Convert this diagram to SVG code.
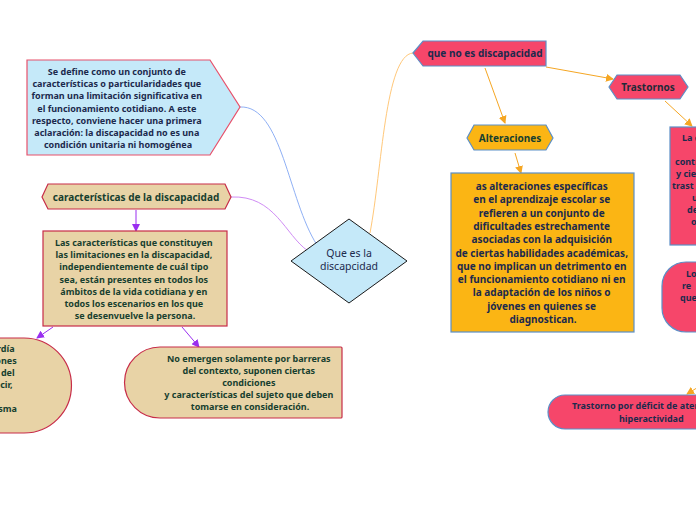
<svg xmlns="http://www.w3.org/2000/svg" width="696" height="520" viewBox="0 0 696 520">
<defs>
<style>
.t{font-family:"Noto Sans","Open Sans","DejaVu Sans",sans-serif;font-weight:bold;text-anchor:middle}
.s9{font-size:9px}
.s10{font-size:10px}
.nv{fill:#1c2a4d}
.gr{fill:#173f2f}
.blue{fill:#c5e9f9;stroke:#e8506a;stroke-width:1.2}
.tan{fill:#e8d3a6;stroke:#c72c48;stroke-width:1.2}
.pink{fill:#f6466a;stroke:#5b8fc7;stroke-width:1.2}
.org{fill:#fbb514;stroke:#5b8fc7;stroke-width:1.2}
.cv{fill:none;stroke-width:1}
.ap{fill:none;stroke:#9a2ff0;stroke-width:1}
.ao{fill:none;stroke:#f5a623;stroke-width:1}
</style>
<marker id="mp" markerWidth="8" markerHeight="8" refX="7" refY="4" orient="auto" markerUnits="userSpaceOnUse"><path d="M0,0 L8,4 L0,8 z" fill="#9a2ff0"/></marker>
<marker id="mo" markerWidth="8" markerHeight="8" refX="7" refY="4" orient="auto" markerUnits="userSpaceOnUse"><path d="M0,0 L8,4 L0,8 z" fill="#f5a623"/></marker>
</defs>
<rect width="696" height="520" fill="#ffffff"/>
<g id="connectors">
<path class="cv" stroke="#8fb0f5" d="M240,107 C282,105 288,200 317,245"/>
<path class="cv" stroke="#d08cf5" d="M231,197 C275,195 285,235 308,251"/>
<path class="cv" stroke="#ffc87a" d="M370,233 C382,170 385,55 413,53"/>
<path class="ap" marker-end="url(#mp)" d="M136,210 L136,231"/>
<path class="ap" marker-end="url(#mp)" d="M53,327 L37,338"/>
<path class="ap" marker-end="url(#mp)" d="M182,327 L199,347"/>
<path class="ao" marker-end="url(#mo)" d="M546,67 L613,79"/>
<path class="ao" marker-end="url(#mo)" d="M485,68 L505,123"/>
<path class="ao" marker-end="url(#mo)" d="M515,153 L521,173"/>
<path class="ao" marker-end="url(#mo)" d="M665,101 L692,126"/>
<path class="ao" marker-end="url(#mo)" d="M700,386 L687,394"/>
</g>
<g id="n-center">
<path d="M349,219 L407,261 L349,303 L291,261 Z" fill="#c5e9f9" stroke="#1a1a1a" stroke-width="1"/>
<text class="nv" x="349" y="257" style="font-family:'Noto Sans',sans-serif;text-anchor:middle;font-size:10.5px">Que es la</text>
<text class="nv" x="349" y="270" style="font-family:'Noto Sans',sans-serif;text-anchor:middle;font-size:10.5px">discapcidad</text>
</g>
<g id="n-define">
<path class="blue" d="M27,60 L210,60 L240,107 L210,155 L27,155 Z"/>
<text class="t s9 nv" x="118" y="75">
<tspan x="118" dy="0">Se define como un conjunto de</tspan>
<tspan x="118" dy="12.2">características o particularidades que</tspan>
<tspan x="118" dy="12.2">forman una limitación significativa en</tspan>
<tspan x="118" dy="12.2">el funcionamiento cotidiano.  A este</tspan>
<tspan x="118" dy="12.2">respecto, conviene hacer una primera</tspan>
<tspan x="118" dy="12.2">aclaración: la discapacidad no es una</tspan>
<tspan x="118" dy="12.2">condición unitaria ni homogénea</tspan>
</text>
</g>
<g id="n-caract">
<path class="tan" d="M42,197 L48,184 L225,184 L231,197 L225,209 L48,209 Z"/>
<text class="t s10 gr" x="136" y="200.5">características de la discapacidad</text>
</g>
<g id="n-limit">
<rect class="tan" x="43" y="231" width="184" height="95"/>
<text class="t s9 gr" x="135" y="246">
<tspan x="135" dy="0">Las características que constituyen</tspan>
<tspan x="135" dy="12.2">las limitaciones en la discapacidad,</tspan>
<tspan x="135" dy="12.2">independientemente de cuál tipo</tspan>
<tspan x="135" dy="12.2">sea, están presentes en todos los</tspan>
<tspan x="135" dy="12.2">ámbitos de la vida cotidiana y en</tspan>
<tspan x="135" dy="12.2">todos los escenarios en los que</tspan>
<tspan x="135" dy="12.2">se desenvuelve la persona.</tspan>
</text>
</g>
<g id="n-left">
<path class="tan" d="M-60,338 L24,338 A47.5,47.5 0 0 1 24,433 L-60,433 Z"/>
<text class="t s9 gr" style="text-anchor:end">
<tspan x="17" y="352">rdía</tspan>
<tspan x="19" y="364">ones</tspan>
<tspan x="17" y="376">s del</tspan>
<tspan x="15" y="388">ecir,</tspan>
<tspan x="17" y="412">sma</tspan>
</text>
</g>
<g id="n-barreras">
<path class="tan" d="M160,347 L341,347 Q342,347 342,348 L342,417 Q342,418 341,418 L160,418 A35.5,35.5 0 0 1 160,347 Z"/>
<text class="t s9 gr" x="250" y="362">
<tspan x="250" dy="0">No emergen solamente por barreras</tspan>
<tspan x="250" dy="12">del contexto, suponen ciertas</tspan>
<tspan x="250" dy="12">condiciones</tspan>
<tspan x="250" dy="12">y características del sujeto que deben</tspan>
<tspan x="250" dy="12">tomarse en consideración.</tspan>
</text>
</g>
<g id="n-queno">
<path class="pink" d="M413,53 L423,41 L546,41 L546,66 L423,66 Z"/>
<text class="t s10 nv" x="485" y="56.5">que no es discapacidad</text>
</g>
<g id="n-trastornos">
<path class="pink" d="M609,87 L617,75 L680,75 L688,87 L680,99 L617,99 Z"/>
<text class="t s10" x="648" y="90.5" fill="#1f2a38">Trastornos</text>
</g>
<g id="n-alter">
<path class="org" d="M467,138 L474,125 L546,125 L553,138 L546,150 L474,150 Z"/>
<text class="t s10 gr" x="510" y="141.5">Alteraciones</text>
</g>
<g id="n-alter-text">
<rect class="org" x="451" y="173" width="183" height="159"/>
<text class="t nv" x="543" y="190" style="font-size:10px">
<tspan x="543" dy="0">as alteraciones específicas</tspan>
<tspan x="543" dy="13.3">en el aprendizaje escolar se</tspan>
<tspan x="543" dy="13.3">refieren a un conjunto de</tspan>
<tspan x="543" dy="13.3">dificultades estrechamente</tspan>
<tspan x="543" dy="13.3">asociadas con la adquisición</tspan>
<tspan x="543" dy="13.3">de ciertas habilidades académicas,</tspan>
<tspan x="543" dy="13.3">que no implican un detrimento en</tspan>
<tspan x="543" dy="13.3">el funcionamiento cotidiano ni en</tspan>
<tspan x="543" dy="13.3">la adaptación de los niños o</tspan>
<tspan x="543" dy="13.3">jóvenes en quienes se</tspan>
<tspan x="543" dy="13.3">diagnostican.</tspan>
</text>
</g>
<g id="n-right1">
<rect class="pink" x="670" y="127" width="60" height="118"/>
<text class="t s9 nv" style="text-anchor:start">
<tspan x="682" y="141">La d</tspan>
<tspan x="675" y="165">contr</tspan>
<tspan x="676" y="177">y cie</tspan>
<tspan x="672" y="189">trast</tspan>
<tspan x="692" y="201">u</tspan>
<tspan x="687" y="213">de</tspan>
<tspan x="691" y="225">o</tspan>
</text>
</g>
<g id="n-right2">
<rect class="pink" x="662" y="262" width="80" height="70" rx="24" ry="24"/>
<text class="t s9 nv" style="text-anchor:start">
<tspan x="686" y="277">Lo</tspan>
<tspan x="682" y="289">re</tspan>
<tspan x="680" y="301">que</tspan>
</text>
</g>
<g id="n-tdah">
<rect class="pink" x="548" y="395" width="200" height="34" rx="17" ry="17"/>
<text class="t s9 nv" style="text-anchor:start">
<tspan x="572" y="409">Trastorno por déficit de atención e</tspan>
<tspan x="619" y="421.5">hiperactividad</tspan>
</text>
</g>
</svg>
